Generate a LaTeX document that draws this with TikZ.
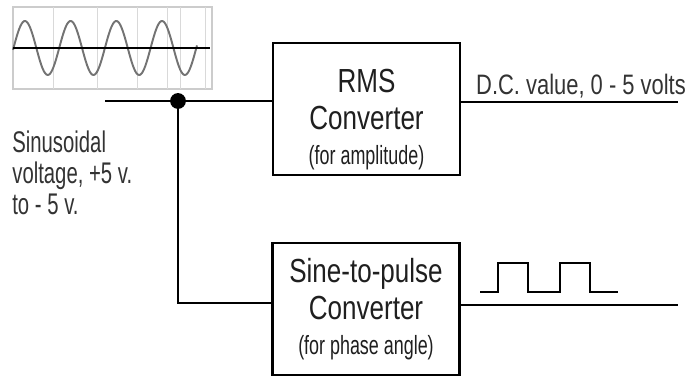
\documentclass[tikz,border=0pt]{standalone}
\usepackage{fontspec}
\setmainfont{Liberation Sans}[FakeStretch=0.78]
\newfontfamily\narrowfont{Liberation Sans}[FakeStretch=0.68]
\usepackage{tikz}

\begin{document}
\begin{tikzpicture}[x=0.02cm, y=-0.02cm,
		convbox/.style={draw, line width=1.3pt, minimum width=3.74cm, minimum height=2.64cm, align=center, inner sep=0pt, font=\fontsize{19}{21}\selectfont, text=black!88},
		subtext/.style={font=\narrowfont\fontsize{15}{17}\selectfont},
		wire/.style={line width=1.2pt},
		junction/.style={circle, fill=black, inner sep=0pt, minimum size=9pt},
		note/.style={font=\narrowfont\fontsize{17}{17.6}\selectfont, text=black!80, inner sep=0pt}]
			\useasboundingbox (0,0) rectangle (693,378);
			% scope screen
			\draw[black!20, line width=0.6pt] (13,7) rectangle (212,89);
			\foreach \gx in {53,97,137,167,180,205}
				\draw[black!15, line width=0.5pt] (\gx,7) -- (\gx,89);
			\draw[black!55, line width=1.1pt] plot[domain=13:197, samples=150, smooth] (\x, {48-27*sin(7.8775*(\x-13.5))});
			\draw[line width=1.5pt] (13,48) -- (210,48);
			% converters
			\node[convbox] (rms) at (366.5,109) {\rule{0pt}{25pt}RMS\\Converter\\[-1pt]{\narrowfont\fontsize{15}{17}\selectfont (for amplitude)}};
			\node[convbox] (pulse) at (366,309) {Sine-to-pulse\\Converter\\[-1pt]{\narrowfont\fontsize{15}{17}\selectfont (for phase angle)}};
			% input
			\coordinate (vin) at (105,101);
			\node[junction] (junc) at (178,101) {};
			\coordinate (bend) at (178,303);
			\draw[wire] (vin) -- (junc) -- (junc -| rms.west);
			\draw[wire] (junc) -- (bend) -- (bend -| pulse.west);
			\node[note, anchor=north west, align=left] (sinlabel) at (12,131) {Sinusoidal\\voltage, +5 v.\\to - 5 v.};
			% outputs
			\coordinate (dcout) at (678,102);
			\coordinate (pout) at (678,305);
			\draw[wire] (rms.east |- dcout) -- (dcout);
			\draw[wire] (pulse.east |- pout) -- (pout);
			\node[note, font=\fontsize{16}{18}\selectfont] (dclabel) at (581,86) {D.C. value, 0 - 5 volts};
			% pulse train
			\draw[wire] (480,292) -- (498,292) -- (498,263) -- (528,263) -- (528,292) -- (560,292) -- (560,263) -- (590,263) -- (590,292) -- (618,292);
		\end{tikzpicture}
\end{document}
